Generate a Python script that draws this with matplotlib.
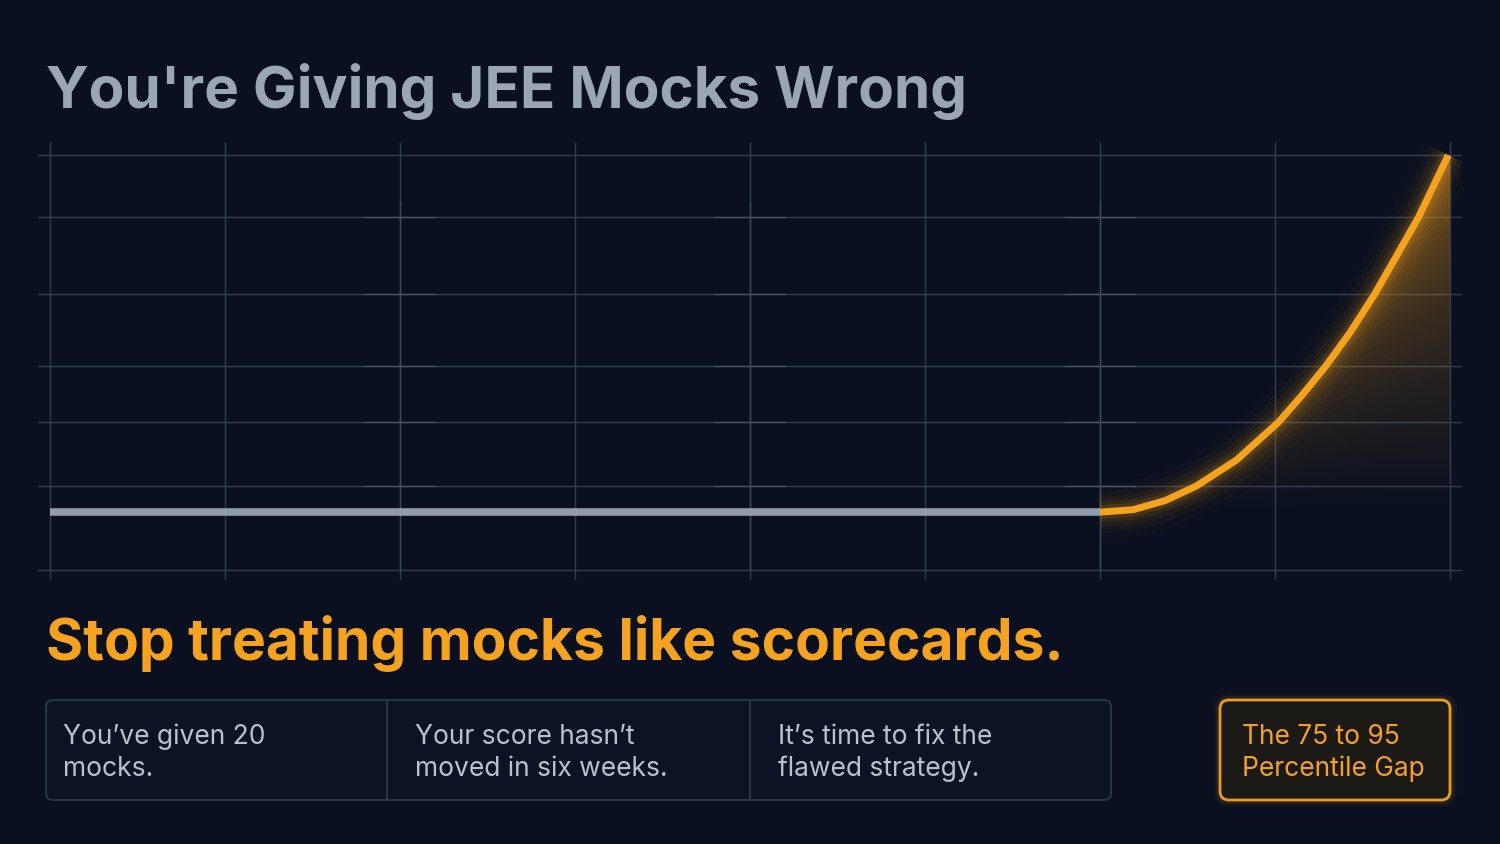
import numpy as np
import matplotlib
matplotlib.use("Agg")
import matplotlib.pyplot as plt
from matplotlib.patches import FancyBboxPatch, Polygon

plt.rcParams['font.family'] = ['Inter', 'DejaVu Sans']

# data
flat_x = [0, 6]
flat_y = [0, 0]
curve_x = [6.0, 6.19, 6.37, 6.55, 6.78, 7.02, 7.15, 7.29, 7.43, 7.57, 7.69, 7.82, 7.90, 7.99]
curve_y = [0, 0.7, 3.2, 7.3, 14.6, 25.2, 32.5, 40.9, 50.4, 61.1, 71.4, 82.6, 90.8, 100]
grid_x = [0, 1, 2, 3, 4, 5, 6, 7, 8]
grid_y = [100, 82.6, 61.1, 40.9, 25.2, 7.3, -16.2]
marked_x = [2, 4, 6]

title = "You're Giving JEE Mocks Wrong"
subtitle = "Stop treating mocks like scorecards."
cells = ["You\u2019ve given 20\nmocks.",
         "Your score hasn\u2019t\nmoved in six weeks.",
         "It\u2019s time to fix the\nflawed strategy."]
callout = "The 75 to 95\nPercentile Gap"

BG = "#0a1020"
ORANGE = "#f5a31c"
GRAY_LINE = "#8f9dad"
GRID = "#333d50"

W, H = 1500, 844
fig = plt.figure(figsize=(W / 100, H / 100), dpi=100)
fig.patch.set_facecolor(BG)

# main chart axes, placed in pixel terms
left_px, right_px, top_px, bot_px = 37.75, 1462.25, 143, 580
ax = fig.add_axes([left_px / W, 1 - bot_px / H, (right_px - left_px) / W, (bot_px - top_px) / H])
ax.set_facecolor(BG)
ax.set_xlim(-0.07, 8.07)
ax.set_ylim(-19.0, 103.4)
ax.axis("off")

for gx in grid_x:
    ax.axvline(gx, color=GRID, lw=1, zorder=1)
for gy in grid_y:
    ax.axhline(gy, color=GRID, lw=1, zorder=1)
# small brighter crosses where some grid lines meet
for mx in marked_x:
    for gy in grid_y[1:-1]:
        ax.plot([mx - 0.2, mx + 0.2], [gy, gy], color="#4a5568", lw=1, zorder=1)
    ax.plot([mx, mx], [-16.2, 82.6 + 4], color="#3e485b", lw=1, zorder=1)

# glow fill to the right of the curve
poly = Polygon(list(zip(curve_x, curve_y)) + [(8.0, 100), (8.0, 0)], closed=True,
               facecolor="none", edgecolor="none")
ax.add_patch(poly)
ny, nx = 300, 300
yy, xx = np.mgrid[0:100:ny * 1j, 6:8:nx * 1j]
dist = xx - np.interp(yy, curve_y, curve_x)
grad = np.zeros((ny, nx, 4))
grad[..., 0] = 0.96
grad[..., 1] = 0.62
grad[..., 2] = 0.10
grad[..., 3] = np.clip(0.55 * (yy / 100) ** 0.9 * (0.45 + 0.55 * np.exp(-dist / 0.35)), 0, 1)
im = ax.imshow(grad, extent=(6.0, 8.0, 0, 100), origin="lower", aspect="auto", zorder=2,
               interpolation="bilinear")
im.set_clip_path(poly)

# glow around the curve
for lw, a in [(40, 0.02), (30, 0.035), (22, 0.05), (15, 0.08), (10, 0.12)]:
    ax.plot(curve_x, curve_y, color=ORANGE, lw=lw, alpha=a, solid_capstyle="butt",
            solid_joinstyle="round", zorder=3)

ax.plot(flat_x, flat_y, color=GRAY_LINE, lw=5.5, solid_capstyle="butt", zorder=4)
ax.plot(curve_x, curve_y, color=ORANGE, lw=5, solid_capstyle="butt", solid_joinstyle="round", zorder=5)

# overlay axes in pixel coordinates for text and cards
ov = fig.add_axes([0, 0, 1, 1])
ov.set_xlim(0, W)
ov.set_ylim(H, 0)
ov.axis("off")
ov.patch.set_alpha(0)

ov.text(46, 91, title, color="#9aa6b3", fontsize=42, fontweight="bold", va="center", ha="left")
ov.text(46, 644, subtitle, color=ORANGE, fontsize=41, fontweight="bold", va="center", ha="left")

card = FancyBboxPatch((46, 700), 1065, 100, boxstyle="round,pad=0,rounding_size=7",
                      facecolor="#0c1324", edgecolor="#2e3848", lw=1.3)
ov.add_patch(card)
for dx in [387, 750]:
    ov.plot([dx, dx], [701, 799], color="#2e3848", lw=1.3)
cell_x = [63, 415, 778]
for cx, txt in zip(cell_x, cells):
    ov.text(cx, 753, txt, color="#b9c3cd", fontsize=19, va="center", ha="left", linespacing=1.3)

for lw, a in [(10, 0.04), (6, 0.08)]:
    ov.add_patch(FancyBboxPatch((1220, 700), 230, 100, boxstyle="round,pad=0,rounding_size=9",
                                facecolor="none", edgecolor=ORANGE, lw=lw, alpha=a))
ov.add_patch(FancyBboxPatch((1220, 700), 230, 100, boxstyle="round,pad=0,rounding_size=9",
                            facecolor="#1b1a17", edgecolor="#e99c1e", lw=2))
ov.text(1242, 753, callout, color=ORANGE, fontsize=19, va="center", ha="left", linespacing=1.3)

fig.savefig("out.png", dpi=100, facecolor=BG)
